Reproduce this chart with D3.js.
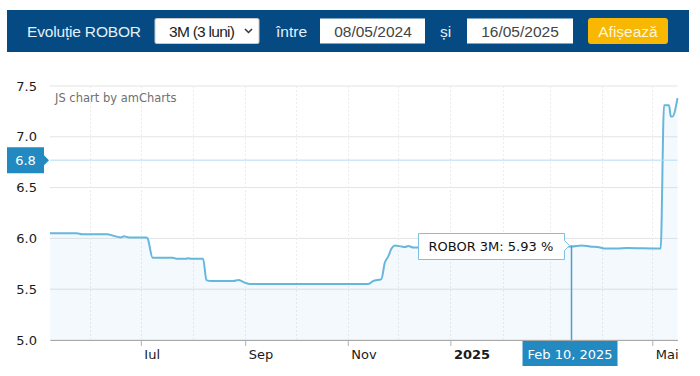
<!DOCTYPE html>
<html><head><meta charset="utf-8">
<script src="https://cdn.jsdelivr.net/npm/d3@7"></script>
<style>
html,body{margin:0;padding:0;background:#fff;}
svg{display:block;}
</style></head>
<body>
<svg id="c" width="700" height="376"></svg>
<script>
// ---- data ----
const dates = ["2024-05-08","2024-05-24","2024-05-27","2024-06-11","2024-06-14","2024-06-16","2024-06-19","2024-06-21","2024-06-24","2024-07-04","2024-07-05","2024-07-08","2024-07-20","2024-07-22","2024-07-28","2024-07-29","2024-07-31","2024-08-07","2024-08-09","2024-08-12","2024-08-25","2024-08-28","2024-08-31","2024-09-04","2024-11-13","2024-11-16","2024-11-21","2024-11-23","2024-11-25","2024-11-27","2024-11-29","2024-12-03","2024-12-05","2024-12-07","2024-12-10","2024-12-14","2024-12-20","2025-01-06","2025-01-20","2025-02-03","2025-02-10","2025-02-24","2025-03-10","2025-03-14","2025-03-20","2025-03-25","2025-03-31","2025-04-03","2025-04-10","2025-04-16","2025-05-05","2025-05-06","2025-05-08","2025-05-11","2025-05-12","2025-05-13","2025-05-16"];
const values = [6.05,6.05,6.04,6.04,6.03,6.02,6.01,6.02,6.01,6.01,6.00,5.81,5.81,5.80,5.80,5.805,5.80,5.80,5.59,5.58,5.58,5.59,5.57,5.55,5.55,5.58,5.60,5.76,5.82,5.90,5.93,5.92,5.915,5.925,5.91,5.91,5.91,5.92,5.93,5.93,5.93,5.92,5.92,5.92,5.93,5.92,5.91,5.90,5.90,5.905,5.90,5.90,7.31,7.31,7.20,7.20,7.38];
const yTicks = [5.0,5.5,6.0,6.5,7.0,7.5];
const gridMonths = ["2024-06-01","2024-07-01","2024-08-01","2024-09-01","2024-10-01","2024-11-01","2024-12-01","2025-01-01","2025-02-01","2025-03-01","2025-04-01","2025-05-01"];
const tickDates = ["2024-07-01","2024-09-01","2024-11-01","2025-01-01","2025-05-01"];
const tickLabels = ["Iul","Sep","Nov","2025","Mai"];
const seriesName = "ROBOR 3M";
const cursorDate = "2025-03-14";
const cursorDateLabel = "Feb 10, 2025";
const cursorValue = 6.77;
const tooltipValue = 5.93;
const headerTitle = "Evoluție ROBOR";
const selectText = "3M (3 luni)";
const fromDate = "08/05/2024";
const toDate = "16/05/2025";

const parse = d3.timeParse("%Y-%m-%d");
const data = dates.map((d,i)=>({date:parse(d), value:values[i]}));

const svg = d3.select("#c");
const font = "'DejaVu Sans', Verdana, sans-serif";
const hfont = "'Liberation Sans', Arial, sans-serif";

// ---- header ----
const hdr = svg.append("g");
hdr.append("rect").attr("x",7).attr("y",10).attr("width",682).attr("height",42).attr("fill","#054a82");
hdr.append("text").attr("x",27).attr("y",36.5).attr("fill","#e4f1fa").attr("font-family",hfont).attr("font-size",15.5).attr("textLength",114).text(headerTitle);
hdr.append("rect").attr("x",155).attr("y",18.5).attr("width",104).attr("height",25).attr("fill","#fff").attr("stroke","#c8c8c8").attr("rx",1.5);
hdr.append("text").attr("x",169).attr("y",36.5).attr("fill","#222").attr("font-family",hfont).attr("font-size",15.5).attr("textLength",66).text(selectText);
hdr.append("path").attr("d","M245,29 L248.5,32.5 L252,29").attr("fill","none").attr("stroke","#333").attr("stroke-width",1.5);
hdr.append("text").attr("x",276).attr("y",36.5).attr("fill","#e4f1fa").attr("font-family",hfont).attr("font-size",15.5).text("între");
hdr.append("rect").attr("x",320).attr("y",18.5).attr("width",105).attr("height",25).attr("fill","#fff");
hdr.append("text").attr("x",373).attr("y",36.5).attr("text-anchor","middle").attr("fill","#444").attr("font-family",hfont).attr("font-size",15.5).text(fromDate);
hdr.append("text").attr("x",440).attr("y",36.5).attr("fill","#e4f1fa").attr("font-family",hfont).attr("font-size",15.5).text("și");
hdr.append("rect").attr("x",467).attr("y",18.5).attr("width",106).attr("height",25).attr("fill","#fff");
hdr.append("text").attr("x",520).attr("y",36.5).attr("text-anchor","middle").attr("fill","#444").attr("font-family",hfont).attr("font-size",15.5).text(toDate);
hdr.append("rect").attr("x",588).attr("y",18).attr("width",80).attr("height",26).attr("rx",3).attr("fill","#f8b700");
hdr.append("text").attr("x",628).attr("y",36.5).attr("text-anchor","middle").attr("fill","#fff6dc").attr("font-family",hfont).attr("font-size",15.5).text("Afișează");

// ---- scales ----
const x = d3.scaleTime().domain([parse("2024-05-08"), parse("2025-05-16")]).range([50, 677.5]);
const y = d3.scaleLinear().domain([5, 7.5]).range([340, 86]);

// grid
const g = svg.append("g");
g.selectAll(".hg").data(yTicks).join("line")
  .attr("x1",50).attr("x2",677.5).attr("y1",d=>y(d)).attr("y2",d=>y(d))
  .attr("stroke","#e3e3e3").attr("stroke-width",1);
g.selectAll(".vg").data(gridMonths.map(parse)).join("line")
  .attr("x1",d=>Math.round(x(d))+0.5).attr("x2",d=>Math.round(x(d))+0.5).attr("y1",86).attr("y2",340)
  .attr("stroke","#ececec").attr("stroke-dasharray","2,2").attr("stroke-width",1);

// amCharts credit
svg.append("text").attr("x",55).attr("y",102).attr("fill","#707070").attr("font-family",font).attr("font-size",11.5).text("JS chart by amCharts");

// y axis labels
svg.append("g").selectAll("text").data(yTicks).join("text")
  .attr("x",37).attr("y",d=>y(d)).attr("dy","0.35em").attr("text-anchor","end")
  .attr("fill","#1a1a1a").attr("font-family",font).attr("font-size",13)
  .text(d=>d3.format(".1f")(d));

// area + line
const area = d3.area().x(d=>x(d.date)).y0(y(5)).y1(d=>y(d.value)).curve(d3.curveMonotoneX);
const line = d3.line().x(d=>x(d.date)).y(d=>y(d.value)).curve(d3.curveMonotoneX);
svg.append("path").datum(data).attr("d",area).attr("fill","#67b7dc").attr("fill-opacity",0.08);
svg.append("path").datum(data).attr("d",line).attr("fill","none").attr("stroke","#67b7dc").attr("stroke-width",2).attr("stroke-linejoin","round");

// x axis
const xAxis = d3.axisBottom(x).tickValues(tickDates.map(parse)).tickSizeInner(6).tickSizeOuter(0)
  .tickFormat((d,i)=>tickLabels[i]);
const ax = svg.append("g").attr("transform","translate(0,340)").call(xAxis);
ax.select(".domain").attr("stroke","#a8a8a8");
ax.selectAll(".tick line").attr("stroke","#b0b0b0");
ax.selectAll(".tick text").attr("x",3).attr("y",10).attr("text-anchor","start")
  .attr("fill","#1a1a1a").attr("font-family",font).attr("font-size",13)
  .attr("font-weight",(d,i)=>tickLabels[i]==="2025"?"bold":"normal");

// cursor
const cx = x(parse(cursorDate));
const cyv = y(cursorValue);
const py = y(tooltipValue);
svg.append("line").attr("x1",50).attr("x2",677.5).attr("y1",cyv).attr("y2",cyv).attr("stroke","#b7dcf1").attr("stroke-width",1);
svg.append("line").attr("x1",cx).attr("x2",cx).attr("y1",py).attr("y2",340).attr("stroke","#4e9fd0").attr("stroke-width",1.5);

// y cursor label
svg.append("path").attr("d",`M7,${cyv-13} H44 V${cyv-5} L49,${cyv} L44,${cyv+5} V${cyv+13} H7 Z`).attr("fill","#238ac1");
svg.append("text").attr("x",25.5).attr("y",cyv).attr("dy","0.36em").attr("text-anchor","middle").attr("fill","#fff").attr("font-family",font).attr("font-size",13).text(d3.format(".1f")(cursorValue));

// x cursor label
svg.append("rect").attr("x",cx-49).attr("y",341).attr("width",95).attr("height",25).attr("fill","#238ac1");
svg.append("text").attr("x",cx-1.5).attr("y",354).attr("dy","0.36em").attr("text-anchor","middle").attr("fill","#fff").attr("font-family",font).attr("font-size",13).text(cursorDateLabel);

// tooltip
const tr = cx-7, tl = tr-146, tt = py-12, tb = py+14;
svg.append("path").attr("d",`M${tl},${tt} H${tr} V${py-5} L${cx-2},${py} L${tr},${py+5} V${tb} H${tl} Z`)
  .attr("fill","#fff").attr("stroke","#7cc0e2").attr("stroke-width",1);
svg.append("text").attr("x",tl+10).attr("y",py+1).attr("dy","0.36em").attr("fill","#111").attr("font-family",font).attr("font-size",13)
  .text(`${seriesName}: ${d3.format(".2f")(tooltipValue)} %`);
</script>
</body></html>
